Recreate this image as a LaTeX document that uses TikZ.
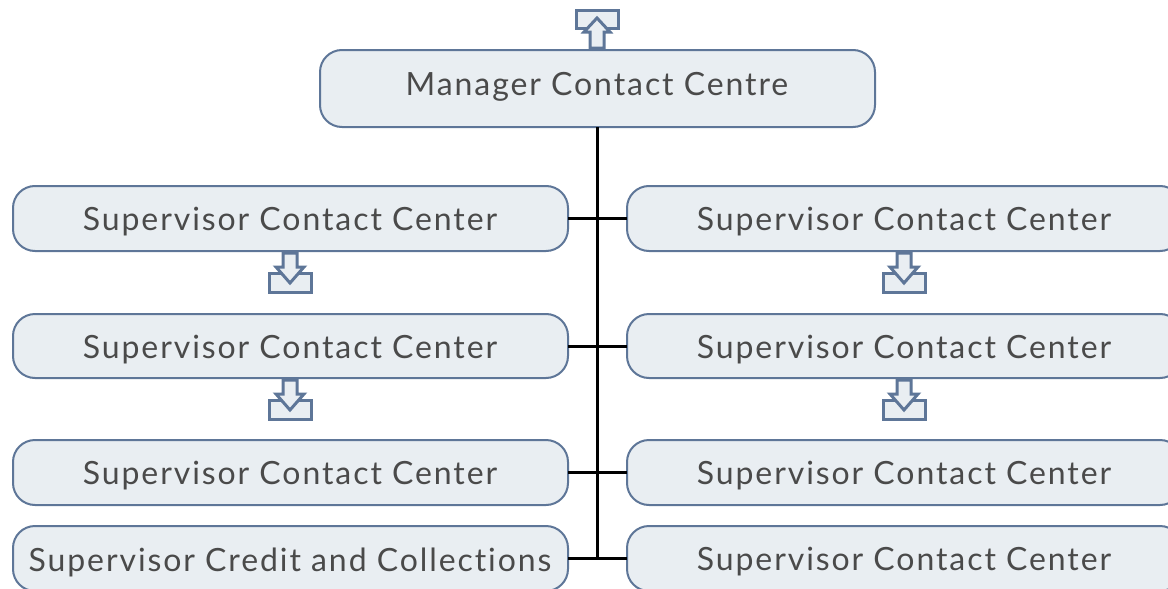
\documentclass[tikz,border=0pt]{standalone}
\usepackage{fontspec}
\setmainfont{Lato}[LetterSpace=6,Ligatures={NoCommon,NoRare,NoDiscretionary}]
\definecolor{boxfill}{HTML}{E9EEF2}
\definecolor{boxline}{HTML}{5E7698}
\definecolor{txt}{HTML}{4A4A4A}
\begin{document}
\begin{tikzpicture}[x=1pt,y=-1pt,
  card/.style={draw=boxline,fill=boxfill,line width=2pt,rounded corners=22pt,inner sep=0pt},
  lbl/.style={text=txt,font=\fontsize{32}{34}\selectfont},
  conn/.style={draw=black,line width=3pt},
  icon/.style={draw=boxline,fill=boxfill,line width=3pt,line join=miter}]
\useasboundingbox (0,0) rectangle (1168,589);
\clip (0,0) rectangle (1168,589);
% boxes
\path[card] (320,50) rectangle (875,127);
\node[lbl] (m) at (597,87) {Manager Contact Centre};
\coordinate (mb) at (597,127);
\foreach \n/\ya/\yb in {1/186/251,2/314/378,3/440/505,4/526/591}{
  \path[card] (13,\ya) rectangle (568,\yb);
  \path[card] (627,\ya) rectangle (1182,\yb);
  \coordinate (L\n) at (568,{(\ya+\yb)/2});
  \coordinate (R\n) at (627,{(\ya+\yb)/2});
  \coordinate (C\n) at (597,{(\ya+\yb)/2});
}
\node[lbl] (l1) at (290,222) {Supervisor Contact Center};
\node[lbl] (l2) at (290,350) {Supervisor Contact Center};
\node[lbl] (l3) at (290,476) {Supervisor Contact Center};
\node[lbl] (l4) at (290,562) {Supervisor Credit and Collections};
\node[lbl] (r1) at (904,222) {Supervisor Contact Center};
\node[lbl] (r2) at (904,350) {Supervisor Contact Center};
\node[lbl] (r3) at (904,476) {Supervisor Contact Center};
\node[lbl] (r4) at (904,562) {Supervisor Contact Center};
% connectors
\draw[conn] (mb) -- (C4);
\foreach \n in {1,2,3,4}{\draw[conn] (L\n) -- (R\n);}
% down icons
\foreach \cx/\y in {290/253,904/253,290/380,904/380}{
  \path[icon] (\cx-21,\y+20) rectangle (\cx+21,\y+39);
  \path[icon] (\cx-7,\y) -- (\cx+7,\y) -- (\cx+7,\y+14) -- (\cx+14,\y+14) -- (\cx,\y+30)
     -- (\cx-14,\y+14) -- (\cx-7,\y+14) -- cycle;
}
% up icon
\path[icon] (576,10) rectangle (618,28);
\path[icon] (590,48) -- (604,48) -- (604,32) -- (610,32) -- (597,18) -- (584,32) -- (590,32) -- cycle;
\end{tikzpicture}
\end{document}
